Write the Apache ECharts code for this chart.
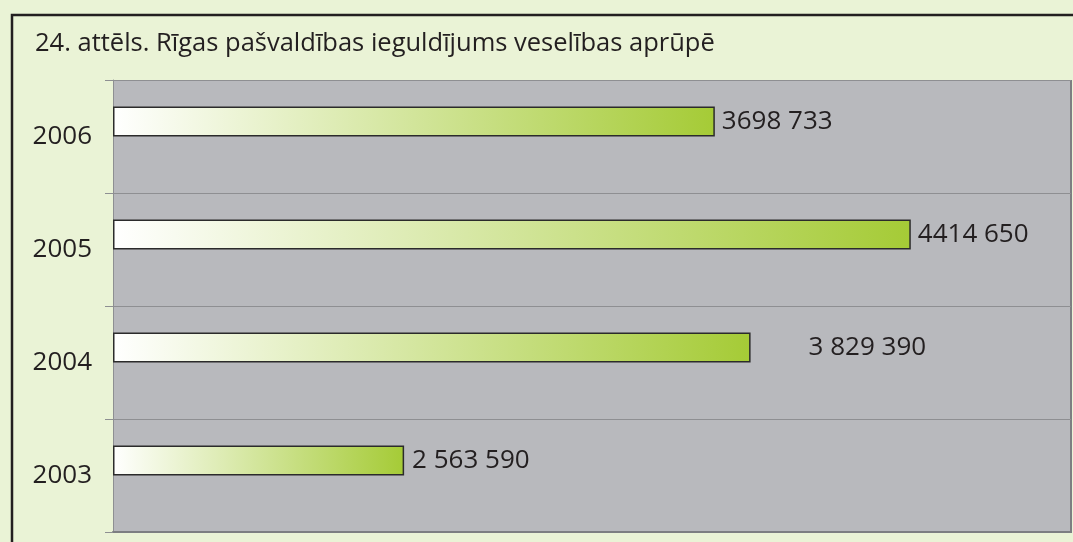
<!DOCTYPE html>
<html>
<head>
<meta charset="utf-8">
<script src="https://cdn.jsdelivr.net/npm/echarts@6/dist/echarts.min.js"></script>
<style>
  html, body { margin: 0; padding: 0; background: #eaf3d6; }
  #chart { width: 1073px; height: 542px; }
</style>
</head>
<body>
<div id="chart"></div>
<script>
var titleText = '24. attēls. Rīgas pašvaldības ieguldījums veselības aprūpē';
var years = ['2003', '2004', '2005', '2006'];
var values = [2563590, 3829390, 4414650, 3698733];
var valueLabels = ['2 563 590', '3 829 390', '4414 650', '3698 733'];
var labelGaps = [8, 58, 7, 7];

var chart = echarts.init(document.getElementById('chart'));

var barData = values.map(function (v, i) {
    return {
        value: v,
        label: { distance: labelGaps[i], formatter: valueLabels[i] }
    };
});

var option = {
    backgroundColor: '#eaf3d6',
    animation: false,
    textStyle: { fontFamily: 'Open Sans' },
    title: {
        text: titleText,
        left: 35,
        top: 31,
        padding: 0,
        textStyle: { fontFamily: 'Open Sans', fontSize: 25.5, fontWeight: 'normal', color: '#231f20' }
    },
    grid: {
        left: 113,
        top: 80,
        right: 2,
        bottom: 10,
        show: true,
        backgroundColor: '#b8b9bd',
        borderWidth: 0
    },
    xAxis: {
        type: 'value',
        min: 1500000,
        max: 5000000,
        startValue: 1500000,
        axisLabel: { show: false },
        axisTick: { show: false },
        splitLine: { show: false },
        axisLine: { show: true, lineStyle: { color: '#7d7e82', width: 2 } }
    },
    yAxis: {
        type: 'category',
        data: years,
        axisLine: { show: true, lineStyle: { color: '#8e8f92', width: 1 } },
        axisTick: { show: true, length: 8, lineStyle: { color: '#8e8f92' } },
        splitLine: { show: true, lineStyle: { color: '#8e8f92', width: 1 } },
        axisLabel: { fontSize: 26, color: '#231f20', margin: 21, fontFamily: 'Open Sans' }
    },
    series: [
        {
            type: 'bar',
            data: barData,
            barWidth: 30,
            barGap: 0,
            itemStyle: {
                borderColor: '#2b2b2b',
                borderWidth: 1.5,
                color: new echarts.graphic.LinearGradient(0, 0, 1, 0, [
                    { offset: 0, color: '#ffffff' },
                    { offset: 1, color: '#a5cb36' }
                ])
            },
            label: {
                show: true,
                position: 'right',
                fontSize: 26,
                color: '#231f20',
                fontFamily: 'Open Sans'
            }
        },
        {
            type: 'bar',
            data: ['-', '-', '-', '-'],
            barWidth: 30,
            barGap: 0,
            silent: true
        }
    ],
    graphic: [
        {
            type: 'polyline',
            shape: { points: [[12, 560], [12, 15], [1090, 15]] },
            style: { stroke: '#231f20', lineWidth: 2.5, fill: null }
        },
        {
            type: 'line',
            shape: { x1: 1071, y1: 80, x2: 1071, y2: 533 },
            style: { stroke: '#7d7e82', lineWidth: 2 }
        }
    ]
};
chart.setOption(option);
</script>
</body>
</html>
